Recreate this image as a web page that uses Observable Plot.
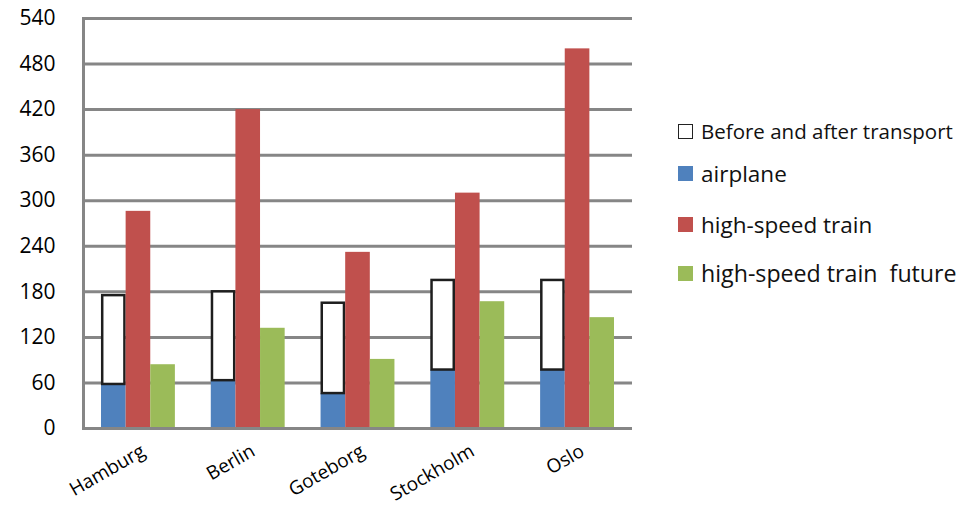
<!DOCTYPE html>
<html>
<head>
<meta charset="utf-8">
<script src="https://cdn.jsdelivr.net/npm/d3@7"></script>
<script src="https://cdn.jsdelivr.net/npm/@observablehq/plot@0.6"></script>
<style>
  body { margin: 0; background: #fff; }
  #wrap { position: relative; width: 965px; height: 509px; font-family: "Open Sans", Lato, sans-serif; }
  #legend { position: absolute; left: 678px; top: 0; }
  .item { position: absolute; left: 0; white-space: nowrap; display: flex; align-items: center; color: #111; }
  .sw { width: 15px; height: 15px; margin-right: 8px; box-sizing: border-box; flex: none; }
</style>
</head>
<body>
<div id="wrap"><div id="legend"></div></div>
<script>
const cities = ["Hamburg", "Berlin", "Goteborg", "Stockholm", "Oslo"];
const airplane = [58, 63, 46, 77, 77];
const beforeAfter = [117, 117, 119, 118, 118];
const hsTrain = [286, 420, 232, 310, 500];
const hsTrainFuture = [84, 132, 91, 167, 146];
const yTicks = [0, 60, 120, 180, 240, 300, 360, 420, 480, 540];
const legendLabels = ["Before and after transport", "airplane", "high-speed train", "high-speed train  future"];
const legendColors = ["#ffffff", "#4F81BD", "#C0504D", "#9BBB59"];

const data = cities.map((c, i) => ({
  city: c, airplane: airplane[i], before: beforeAfter[i], train: hsTrain[i], future: hsTrainFuture[i]
}));

const width = 965, height = 509;
const mL = 83, mR = 333, mT = 18, mB = 81;
const pInner = 0.327, pOuter = 0.164;
const step = (width - mL - mR) / (cities.length - pInner + 2 * pOuter);
const bw = step * (1 - pInner);
const w = bw / 3;

const chart = Plot.plot({
  width, height,
  marginLeft: mL, marginRight: mR, marginTop: mT, marginBottom: mB,
  style: { fontFamily: "'Open Sans', Lato, sans-serif", color: "#000", background: "#fff" },
  x: { domain: cities, paddingInner: pInner, paddingOuter: pOuter, round: false, label: null },
  y: { domain: [0, 540], label: null },
  marks: [
    Plot.ruleY(yTicks, { stroke: "#868686", strokeWidth: 3 }),
    Plot.frame({ anchor: "left", stroke: "#868686", strokeWidth: 3 }),
    Plot.barY(data, { x: "city", y1: 0, y2: "airplane", fill: legendColors[1], insetLeft: 0, insetRight: 2 * w }),
    Plot.barY(data, { x: "city", y1: "airplane", y2: d => d.airplane + d.before, fill: "#fff", stroke: "#1e1e1e", strokeWidth: 2.5, insetLeft: 1.2, insetRight: 2 * w + 1.2 }),
    Plot.barY(data, { x: "city", y1: 0, y2: "train", fill: legendColors[2], insetLeft: w, insetRight: w }),
    Plot.barY(data, { x: "city", y1: 0, y2: "future", fill: legendColors[3], insetLeft: 2 * w, insetRight: 0 }),
    Plot.ruleY([0], { stroke: "#868686", strokeWidth: 3 }),
    Plot.axisY({ ticks: yTicks, tickSize: 0, tickPadding: 28, fontSize: 21 }),
    Plot.axisX({ tickSize: 0, tickRotate: -30, tickPadding: 21, fontSize: 19, dx: 5 })
  ]
});
document.getElementById("wrap").prepend(chart);

const legend = document.getElementById("legend");
const ys = [131, 173, 224, 273];
const fs = [20.5, 22.5, 22.5, 23.2];
legendLabels.forEach((lab, i) => {
  const it = document.createElement("div");
  it.className = "item";
  it.style.top = (ys[i] - 14) + "px";
  it.style.height = "28px";
  it.style.fontSize = fs[i] + "px";
  const sw = document.createElement("div");
  sw.className = "sw";
  sw.style.background = legendColors[i];
  if (i === 0) sw.style.border = "1.5px solid #222";
  it.appendChild(sw);
  const t = document.createElement("span");
  t.textContent = lab;
  t.style.whiteSpace = "pre";
  it.appendChild(t);
  legend.appendChild(it);
});
</script>
</body>
</html>
